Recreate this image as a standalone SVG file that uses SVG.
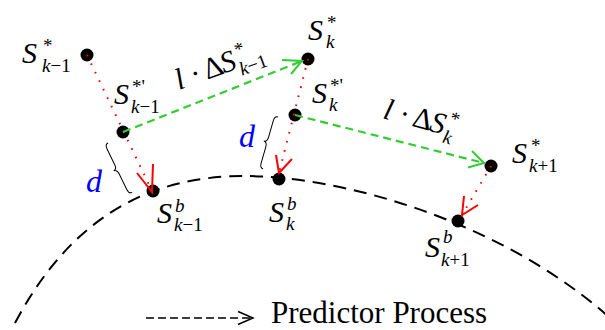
<svg xmlns="http://www.w3.org/2000/svg" width="605" height="330" viewBox="0 0 605 330">
<style>
  text { font-family: "Liberation Serif", "Times New Roman", serif; fill: #000; }
  .big { font-size: 30px; }
  .sm { font-size: 19px; }
  .it { font-style: italic; }
  .dval { font-size: 32px; font-style: italic; fill: #0000ff; }
  .dot { fill: #000; }
  .curve { fill: none; stroke: #000; stroke-width: 2; stroke-dasharray: 13 8; }
  .red { fill: none; stroke: #ff0000; stroke-width: 2; stroke-dasharray: 1.6 7.8; }
  .redhead { fill: none; stroke: #ff0000; stroke-width: 2; }
  .green { fill: none; stroke: #33cc33; stroke-width: 2.2; stroke-dasharray: 8 5; }
  .greenhead { fill: none; stroke: #33cc33; stroke-width: 2; }
  .brace { fill: none; stroke: #000; stroke-width: 1; }
  .legend { fill: none; stroke: #000; stroke-width: 1.5; stroke-dasharray: 8 4; }
  .legendhead { fill: none; stroke: #000; stroke-width: 1.5; }
</style>
<rect width="605" height="330" fill="#fff"/>

<!-- boundary curve -->
<path class="curve" d="M 15 323 C 80 200, 170 176, 245 176 C 340 176, 500 220, 610 318"/>

<g id="node-s-star-km1">
  <circle class="dot" cx="87" cy="55" r="6.5"/>
  <text class="big it" x="22" y="63">S</text>
  <text class="sm" x="43" y="52">*</text>
  <text class="sm" x="42" y="72"><tspan class="it">k</tspan>−1</text>
</g>
<g id="node-s-starprime-km1">
  <circle class="dot" cx="123" cy="132" r="6.5"/>
  <text class="big it" x="114" y="104">S</text>
  <text class="sm" x="132" y="93">*'</text>
  <text class="sm" x="131" y="113"><tspan class="it">k</tspan>−1</text>
</g>
<g id="node-s-b-km1">
  <circle class="dot" cx="153" cy="191" r="6.5"/>
  <text class="big it" x="157" y="223">S</text>
  <text class="sm it" x="175" y="212">b</text>
  <text class="sm" x="174" y="231"><tspan class="it">k</tspan>−1</text>
</g>
<g id="node-s-star-k">
  <circle class="dot" cx="308" cy="59" r="6.5"/>
  <text class="big it" x="308" y="40">S</text>
  <text class="sm" x="327" y="29">*</text>
  <text class="sm it" x="326" y="48">k</text>
</g>
<g id="node-s-starprime-k">
  <circle class="dot" cx="295" cy="115" r="6.5"/>
  <text class="big it" x="312" y="103">S</text>
  <text class="sm" x="330" y="92">*'</text>
  <text class="sm it" x="329" y="111">k</text>
</g>
<g id="node-s-b-k">
  <circle class="dot" cx="279" cy="179" r="6.5"/>
  <text class="big it" x="269" y="222">S</text>
  <text class="sm it" x="287" y="210">b</text>
  <text class="sm it" x="286" y="230">k</text>
</g>
<g id="node-s-star-kp1">
  <circle class="dot" cx="491" cy="166" r="6.5"/>
  <text class="big it" x="512" y="163">S</text>
  <text class="sm" x="531" y="152">*</text>
  <text class="sm" x="529" y="172"><tspan class="it">k</tspan>+1</text>
</g>
<g id="node-s-b-kp1">
  <circle class="dot" cx="458" cy="221" r="6.5"/>
  <text class="big it" x="425" y="257">S</text>
  <text class="sm it" x="443" y="243">b</text>
  <text class="sm" x="441" y="266"><tspan class="it">k</tspan>+1</text>
</g>

<g id="connectors">
  <!-- red dotted projections -->
  <line class="red" x1="87" y1="55" x2="152" y2="191"/>
  <polyline class="redhead" points="137,173 152,192 153,164"/>
  <line class="red" x1="308" y1="59" x2="279" y2="173"/>
  <polyline class="redhead" points="276,155 279,173 292,159"/>
  <line class="red" x1="491" y1="166" x2="462" y2="215"/>
  <polyline class="redhead" points="464,196 462,215 478,205"/>

  <!-- green dashed predictions -->
  <line class="green" x1="123" y1="132" x2="302" y2="61"/>
  <polyline class="greenhead" points="282,60 302,61 291,74"/>
  <line class="green" x1="295" y1="115" x2="484" y2="163"/>
  <polyline class="greenhead" points="472,151 484,163 468,167.5"/>

  <text transform="translate(179,90) rotate(-20)" class="big">
    <tspan class="it" x="0" y="0">l</tspan>
    <tspan x="16" y="0">·</tspan>
    <tspan x="30" y="0">Δ</tspan>
    <tspan class="it" x="48" y="0">S</tspan>
  </text>
  <text transform="translate(179,90) rotate(-20)" class="sm" x="66" y="-12">*</text>
  <text transform="translate(179,90) rotate(-20)" class="sm" x="64" y="8"><tspan class="it">k</tspan>−1</text>

  <text transform="translate(382,118) rotate(15)" class="big">
    <tspan class="it" x="0" y="0">l</tspan>
    <tspan x="16" y="0">·</tspan>
    <tspan x="30" y="0">Δ</tspan>
    <tspan class="it" x="48" y="0">S</tspan>
  </text>
  <text transform="translate(382,118) rotate(15)" class="sm" x="66" y="-12">*</text>
  <text transform="translate(382,118) rotate(15)" class="sm it" x="64" y="8">k</text>
</g>

<g id="distance-marks">
  <path class="brace" transform="translate(108,143) rotate(-26)" d="M 0 0 C -3 0, -3.5 2, -3.5 5 L -3.5 22.5 C -3.5 26, -5 27.5, -7 27.5 C -5 27.5, -3.5 29, -3.5 32.5 L -3.5 50 C -3.5 53, -3 55, 0 55"/>
  <text class="dval" x="86" y="192">d</text>
  <path class="brace" transform="translate(278,117) rotate(16)" d="M 0 0 C -3 0, -3.5 2, -3.5 5 L -3.5 22 C -3.5 25.5, -5 27, -7 27 C -5 27, -3.5 28.5, -3.5 32 L -3.5 49 C -3.5 52, -3 54, 0 54"/>
  <text class="dval" x="239" y="147">d</text>
</g>

<g id="legend">
  <line class="legend" x1="146" y1="318" x2="251" y2="318"/>
  <polyline class="legendhead" points="238,311.5 253,318 238,324.5"/>
  <text x="271" y="323" style="font-size:31px">Predictor Process</text>
</g>
</svg>
